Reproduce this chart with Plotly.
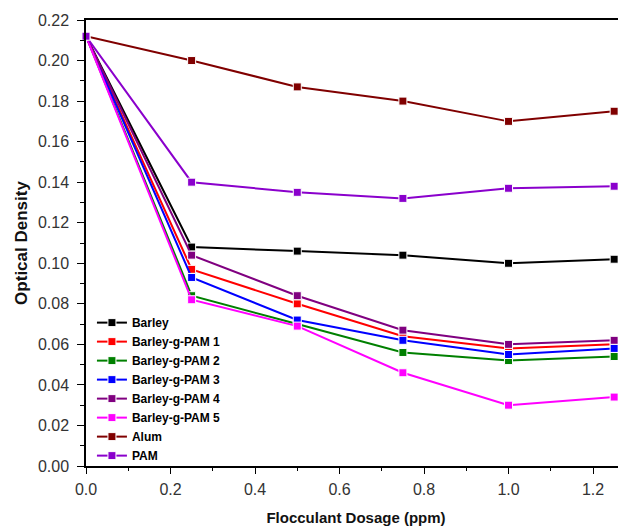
import plotly.graph_objects as go

dosage = [0.0, 0.25, 0.5, 0.75, 1.0, 1.25]

series_names = ["Barley", "Barley-g-PAM 1", "Barley-g-PAM 2", "Barley-g-PAM 3",
                "Barley-g-PAM 4", "Barley-g-PAM 5", "Alum", "PAM"]

barley = [0.212, 0.108, 0.106, 0.104, 0.100, 0.102]
bgpam1 = [0.212, 0.097, 0.080, 0.064, 0.058, 0.060]
bgpam2 = [0.212, 0.084, 0.070, 0.056, 0.052, 0.054]
bgpam3 = [0.212, 0.093, 0.072, 0.062, 0.055, 0.058]
bgpam4 = [0.212, 0.104, 0.084, 0.067, 0.060, 0.062]
bgpam5 = [0.212, 0.082, 0.069, 0.046, 0.030, 0.034]
alum = [0.212, 0.200, 0.187, 0.180, 0.170, 0.175]
pam = [0.212, 0.140, 0.135, 0.132, 0.137, 0.138]

series_values = [barley, bgpam1, bgpam2, bgpam3, bgpam4, bgpam5, alum, pam]
colors = ["#000000", "#FF0000", "#008000", "#0000FF", "#800080", "#FF00FF", "#800000", "#8A00CC"]

FONT = "Arial, Liberation Sans, sans-serif"

fig = go.Figure()
for name, vals, col in zip(series_names, series_values, colors):
    fig.add_trace(go.Scatter(
        x=dosage, y=vals, name=name, mode="lines+markers",
        line=dict(color=col, width=2),
        marker=dict(symbol="square", size=8, color=col, line=dict(color="white", width=1)),
        cliponaxis=False,
    ))

fig.update_layout(
    width=618, height=518,
    margin=dict(l=78, r=0, t=12, b=60),
    paper_bgcolor="white", plot_bgcolor="white",
    font=dict(family=FONT, color="#222"),
    showlegend=True,
    legend=dict(x=0.011, y=0.354, xanchor="left", yanchor="top",
                bgcolor="rgba(0,0,0,0)", font=dict(size=12, family=FONT, color="black", weight="bold"),
                itemwidth=30, tracegroupgap=0),
)
fig.update_xaxes(
    range=[0, 1.278], dtick=0.2, tick0=0, tickformat=".1f", automargin=False,
    showline=True, linecolor="black", linewidth=1.5, mirror=True,
    ticks="outside", ticklen=6, tickwidth=1.2, tickcolor="black",
    minor=dict(dtick=0.1, ticks="outside", ticklen=3, tickcolor="black"),
    showgrid=False, zeroline=False, ticklabelstandoff=2,
    tickfont=dict(size=16, color="#333"),
    title=dict(text="Flocculant Dosage (ppm)", font=dict(size=15, color="#111", weight="bold"), standoff=25),
)
fig.update_yaxes(
    range=[0, 0.22], dtick=0.02, tick0=0, tickformat=".2f", automargin=False,
    showline=True, linecolor="black", linewidth=1.5, mirror=False,
    ticks="outside", ticklen=7, tickwidth=1.2, tickcolor="black",
    minor=dict(dtick=0.01, ticks="outside", ticklen=4, tickcolor="black"),
    showgrid=False, zeroline=False, ticklabelstandoff=5,
    tickfont=dict(size=16, color="#333"),
    title=dict(text="Optical Density", font=dict(size=17, color="#111", weight="bold"), standoff=6),
)

fig.write_html("out.html")
